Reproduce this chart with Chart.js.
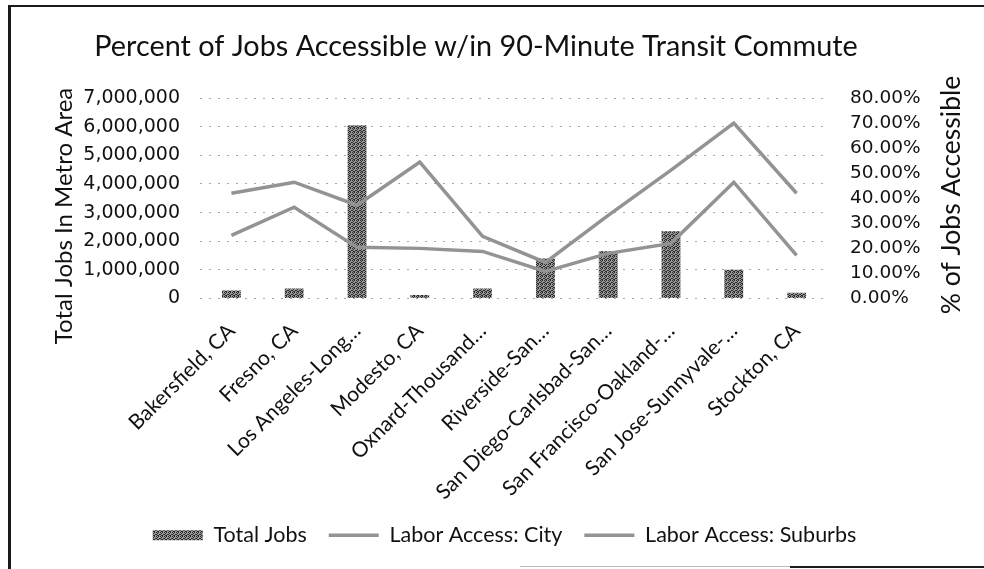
<!DOCTYPE html>
<html>
<head>
<meta charset="utf-8">
<script src="https://cdn.jsdelivr.net/npm/chart.js@4.4.1/dist/chart.umd.min.js"></script>
<style>
  html, body { margin: 0; padding: 0; background: #fff; }
  #wrap { position: relative; width: 984px; height: 569px; }
  canvas { position: absolute; left: 0; top: 0; }
  .ln { position: absolute; background: #1a1a1a; }
</style>
</head>
<body>
<div id="wrap">
  <canvas id="c" width="984" height="569"></canvas>
  <div class="ln" style="left:8px; top:5px; width:976px; height:2px;"></div>
  <div class="ln" style="left:8px; top:5px; width:3px; height:564px;"></div>
  <div class="ln" style="left:790px; top:566px; width:194px; height:2px;"></div>
  <div class="ln" style="left:520px; top:566px; width:270px; height:1px; background:#bbb;"></div>
</div>
<script>
const chartTitle = 'Percent of Jobs Accessible w/in 90-Minute Transit Commute';
const leftAxisTitle = 'Total Jobs In Metro Area';
const rightAxisTitle = '% of Jobs Accessible';
const categories = ["Bakersfield, CA", "Fresno, CA", "Los Angeles-Long…", "Modesto, CA", "Oxnard-Thousand…", "Riverside-San…", "San Diego-Carlsbad-San…", "San Francisco-Oakland-…", "San Jose-Sunnyvale-…", "Stockton, CA"];
const totalJobs = [280000, 350000, 6050000, 120000, 350000, 1400000, 1650000, 2350000, 1000000, 200000];
const laborAccessCity = [0.420, 0.464, 0.372, 0.544, 0.248, 0.144, 0.332, 0.512, 0.700, 0.420];
const laborAccessSuburbs = [0.252, 0.364, 0.204, 0.200, 0.188, 0.108, 0.180, 0.220, 0.464, 0.172];
const leftTicks = [0, 1000000, 2000000, 3000000, 4000000, 5000000, 6000000, 7000000];
const rightTicks = [0, 0.1, 0.2, 0.3, 0.4, 0.5, 0.6, 0.7, 0.8];

function makePattern() {
  const p = document.createElement('canvas');
  p.width = 4; p.height = 4;
  const g = p.getContext('2d');
  g.fillStyle = '#9a9a9a'; g.fillRect(0, 0, 4, 4);
  g.fillStyle = '#2a2a2a';
  [[0,0],[2,0],[1,1],[3,2],[0,2],[1,3],[2,3]].forEach(([x,y]) => g.fillRect(x, y, 1, 1));
  return document.getElementById('c').getContext('2d').createPattern(p, 'repeat');
}
const barFill = makePattern();
const lineColor = '#939393';
const textColor = '#111';

const textPlugin = {
  id: 'texts',
  afterDraw(chart) {
    const ctx = chart.ctx;
    ctx.save();
    ctx.fillStyle = textColor;
    ctx.textAlign = 'center';
    ctx.textBaseline = 'middle';
    ctx.font = '28.8px Lato';
    ctx.fillText(chartTitle, 476, 47);
    ctx.save();
    ctx.translate(64, 216);
    ctx.rotate(-Math.PI / 2);
    ctx.font = '24px Lato';
    ctx.fillText(leftAxisTitle, 0, 0);
    ctx.restore();
    ctx.save();
    ctx.translate(951, 195);
    ctx.rotate(-Math.PI / 2);
    ctx.font = '26.5px Lato';
    ctx.fillText(rightAxisTitle, 0, 0);
    ctx.restore();
    ctx.restore();
  }
};

new Chart(document.getElementById('c'), {
  data: {
    labels: categories,
    datasets: [
      { type: 'bar', label: 'Total Jobs', data: totalJobs, yAxisID: 'y', backgroundColor: barFill, borderWidth: 0, barPercentage: 0.3, categoryPercentage: 1.0, order: 2 },
      { type: 'line', label: 'Labor Access: City', data: laborAccessCity, yAxisID: 'y1', borderColor: lineColor, backgroundColor: lineColor, borderWidth: 3.5, pointRadius: 0, tension: 0, order: 1 },
      { type: 'line', label: 'Labor Access: Suburbs', data: laborAccessSuburbs, yAxisID: 'y1', borderColor: lineColor, backgroundColor: lineColor, borderWidth: 3.5, pointRadius: 0, tension: 0, order: 1 }
    ]
  },
  plugins: [textPlugin],
  options: {
    responsive: false,
    animation: false,
    devicePixelRatio: 1,
    layout: { padding: { left: 40, right: 15, top: 98, bottom: 13 } },
    plugins: {
      tooltip: { enabled: false },
      title: { display: false },
      legend: {
        position: 'bottom',
        labels: {
          color: textColor,
          font: { family: 'Lato', size: 21.5 },
          usePointStyle: true,
          pointStyleWidth: 50,
          boxHeight: 10,
          padding: 22,
          sort: (a, b) => a.datasetIndex - b.datasetIndex,
          generateLabels(chart) {
            const items = Chart.defaults.plugins.legend.labels.generateLabels(chart);
            items.forEach((it) => {
              if (it.datasetIndex === 0) { it.pointStyle = 'rect'; it.fillStyle = barFill; it.lineWidth = 0; it.strokeStyle = 'rgba(0,0,0,0)'; }
              else { it.pointStyle = 'line'; it.lineWidth = 3.5; it.strokeStyle = lineColor; }
            });
            return items;
          }
        }
      }
    },
    scales: {
      x: {
        grid: { display: false, drawTicks: false },
        border: { display: false },
        ticks: { color: textColor, font: { family: 'Lato', size: 21 }, minRotation: 45, maxRotation: 45, padding: 20, autoSkip: false },
        afterFit(s) { s.height = 204; }
      },
      y: {
        position: 'left',
        min: 0, max: 7000000,
        afterBuildTicks(s) { s.ticks = leftTicks.map(v => ({ value: v })); },
        grid: { color: '#a8a8a8', drawTicks: false, lineWidth: 1 },
        border: { display: false, dash: [2, 7] },
        ticks: { color: textColor, font: { family: 'DejaVu Sans', size: 19 }, padding: 20, autoSkip: false, callback: v => v.toLocaleString('en-US') },
        afterFit(s) { s.width = 160; }
      },
      y1: {
        position: 'right',
        min: 0, max: 0.8,
        afterBuildTicks(s) { s.ticks = rightTicks.map(v => ({ value: v })); },
        grid: { display: false, drawTicks: false },
        border: { display: false },
        ticks: { color: textColor, font: { family: 'DejaVu Sans', size: 18.5 }, padding: 22, autoSkip: false, callback: v => (v * 100).toFixed(2) + '%' },
        afterFit(s) { s.width = 141; }
      }
    }
  }
});
</script>
</body>
</html>
